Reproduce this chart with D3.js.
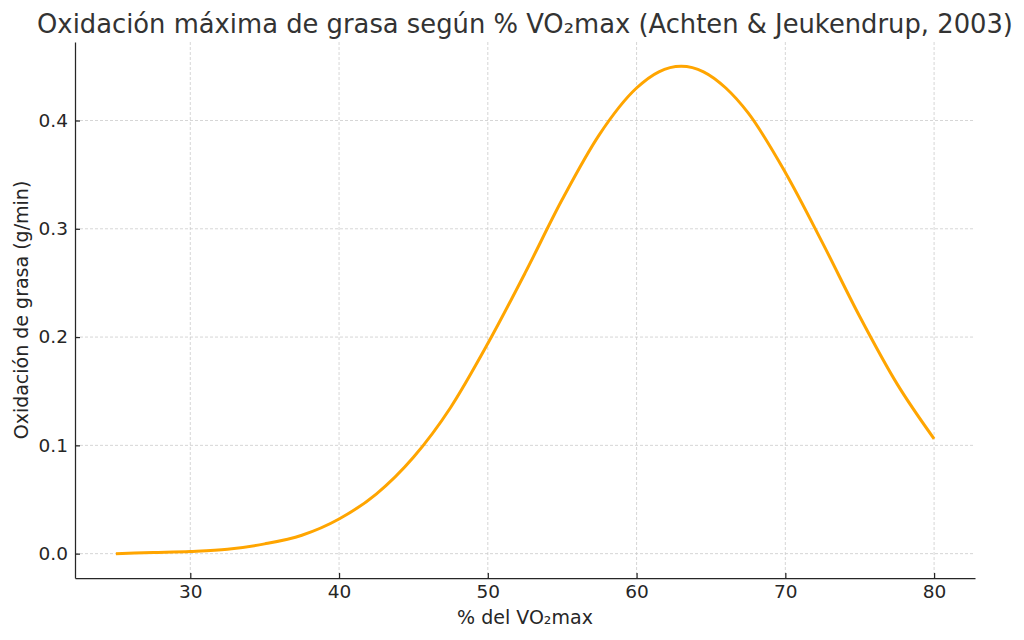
<!DOCTYPE html>
<html lang="es">
<head>
<meta charset="UTF-8">
<title>Oxidación máxima de grasa</title>
<script src="https://d3js.org/d3.v7.min.js"></script>
<style>
    body { margin: 0; background: #fff; }
    text { font-family: "DejaVu Sans", sans-serif; }
    .grid line { stroke: #cccccc; stroke-width: 0.8; stroke-dasharray: 3,2; }
    .axis path, .axis line { stroke: #262626; stroke-width: 1.25; }
    .axis text { fill: #262626; font-size: 18.5px; }
</style>
</head>
<body>
<div id="chart"></div>
<script>
// % VO2max
var vo2 = [25, 27.5, 30, 32.5, 35, 37.5, 40, 42.5, 45, 47.5, 50, 52.5, 55, 57.5, 60, 61.5, 63, 64.5, 66, 67.5, 70, 72.5, 75, 77.5, 80];
// fat oxidation (g/min)
var fatOx = [0.000, 0.001, 0.002, 0.004, 0.009, 0.017, 0.032, 0.055, 0.089, 0.135, 0.194, 0.259, 0.327, 0.387, 0.430, 0.445, 0.450, 0.445, 0.430, 0.407, 0.352, 0.287, 0.219, 0.157, 0.106];
var xTicks = [30, 40, 50, 60, 70, 80];
var yTicks = [0.0, 0.1, 0.2, 0.3, 0.4];

var W = 1024, H = 640;
var margin = { top: 42, right: 49, bottom: 62, left: 75 };
var width = W - margin.left - margin.right;
var height = H - margin.top - margin.bottom;

var data = vo2.map(function (v, i) { return { x: v, y: fatOx[i] }; });

var x = d3.scaleLinear().domain([22.25, 82.75]).range([0, width]);
var y = d3.scaleLinear().domain([-0.0225, 0.4725]).range([height, 0]);

var svg = d3.select("#chart").append("svg")
    .attr("width", W)
    .attr("height", H);

var g = svg.append("g")
    .attr("transform", "translate(" + margin.left + "," + margin.top + ")");

// grid
g.append("g").attr("class", "grid")
    .selectAll("line").data(xTicks).enter().append("line")
    .attr("x1", function (d) { return x(d); })
    .attr("x2", function (d) { return x(d); })
    .attr("y1", 0).attr("y2", height);

g.append("g").attr("class", "grid")
    .selectAll("line").data(yTicks).enter().append("line")
    .attr("x1", 0).attr("x2", width)
    .attr("y1", function (d) { return y(d); })
    .attr("y2", function (d) { return y(d); });

// curve
var line = d3.line()
    .x(function (d) { return x(d.x); })
    .y(function (d) { return y(d.y); })
    .curve(d3.curveMonotoneX);

g.append("path")
    .attr("d", line(data))
    .attr("fill", "none")
    .attr("stroke", "#FFA500")
    .attr("stroke-width", 3);

// axes (ticks pointing inwards, no top/right spines)
var xAxis = d3.axisBottom(x).tickValues(xTicks).tickFormat(d3.format("d"))
    .tickSizeInner(-5).tickSizeOuter(0).tickPadding(7);
var yAxis = d3.axisLeft(y).tickValues(yTicks).tickFormat(d3.format(".1f"))
    .tickSizeInner(-5).tickSizeOuter(0).tickPadding(7);

g.append("g").attr("class", "x axis")
    .attr("transform", "translate(0," + height + ")")
    .call(xAxis);

g.append("g").attr("class", "y axis")
    .call(yAxis);

// title and labels
svg.append("text")
    .attr("x", margin.left + width / 2)
    .attr("y", 33)
    .attr("text-anchor", "middle")
    .attr("fill", "#333333")
    .style("font-size", "25.8px")
    .text("Oxidación máxima de grasa según % VO₂max (Achten & Jeukendrup, 2003)");

svg.append("text")
    .attr("x", margin.left + width / 2)
    .attr("y", 624)
    .attr("text-anchor", "middle")
    .attr("fill", "#262626")
    .style("font-size", "19px")
    .text("% del VO₂max");

svg.append("text")
    .attr("transform", "translate(28," + (margin.top + height / 2) + ") rotate(-90)")
    .attr("text-anchor", "middle")
    .attr("fill", "#262626")
    .style("font-size", "19px")
    .text("Oxidación de grasa (g/min)");
</script>
</body>
</html>
